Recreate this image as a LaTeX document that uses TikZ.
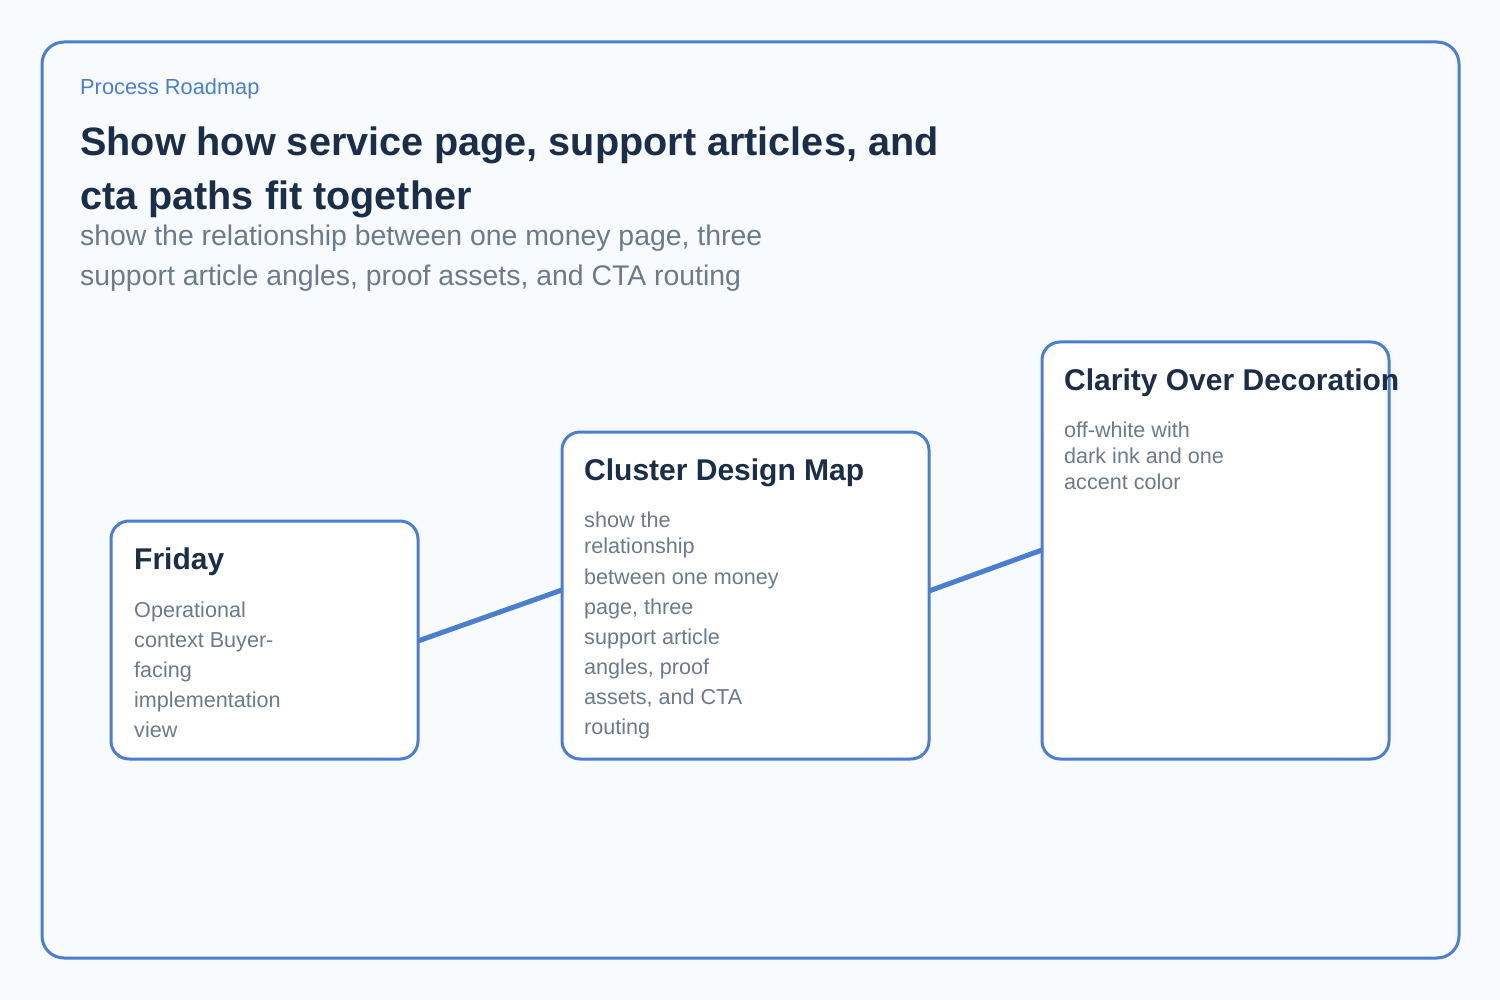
\documentclass[tikz,border=0pt]{standalone}
\usepackage{fontspec}
\setmainfont{Liberation Sans}
\definecolor{acc}{HTML}{4A7FD0}
\definecolor{ink}{HTML}{1A2E4A}
\definecolor{mut}{HTML}{6B7A8F}
\definecolor{bg}{HTML}{F8FBFE}
\begin{document}
\begin{tikzpicture}[x=1pt,y=-1pt,
  box/.style={draw=acc,line width=3pt,rounded corners=18pt,fill=white},
  t/.style={anchor=base west,inner sep=0pt},
  ttl/.style={t,text=ink,font=\fontsize{30}{34}\selectfont\bfseries},
  bd/.style={t,text=mut,font=\fontsize{21.6}{24}\selectfont},
  link/.style={draw=acc,line width=5pt}]
\useasboundingbox[fill=bg] (0,0) rectangle (1500,1000);
\draw[draw=acc,line width=3pt,rounded corners=22pt,fill=bg] (42,42) rectangle (1459,958);
\node[t,text=acc,font=\fontsize{21.8}{24}\selectfont] (kick) at (80,95) {Process Roadmap};
\node[t,text=ink,font=\fontsize{39.6}{44}\selectfont\bfseries] (h1) at (80,156) {Show how service page, support articles, and};
\node[t,text=ink,font=\fontsize{39.6}{44}\selectfont\bfseries] (h2) at (80,210) {cta paths fit together};
\node[t,text=mut,font=\fontsize{28.4}{30}\selectfont] (s1) at (80,246) {show the relationship between one money page, three};
\node[t,text=mut,font=\fontsize{28.4}{30}\selectfont] (s2) at (80,286) {support article angles, proof assets, and CTA routing};
% boxes
\draw[box] (111,521) rectangle (418,759);
\draw[box] (562,432) rectangle (929,759);
\draw[box] (1042,342) rectangle (1389,759);
\coordinate (a1) at (418,641);
\coordinate (a2) at (562,590);
\coordinate (b1) at (929,591);
\coordinate (b2) at (1042,550);
\draw[link] (a1) -- (a2);
\draw[link] (b1) -- (b2);
% Friday
\node[ttl] (f0) at (134,569) {Friday};
\node[bd] (f1) at (134,617) {Operational};
\node[bd] (f2) at (134,647) {context Buyer-};
\node[bd] (f3) at (134,677) {facing};
\node[bd] (f4) at (134,707) {implementation};
\node[bd] (f5) at (134,737) {view};
% Cluster
\node[ttl] (c0) at (584,480) {Cluster Design Map};
\node[bd] (c1) at (584,527) {show the};
\node[bd] (c2) at (584,553) {relationship};
\node[bd] (c3) at (584,584) {between one money};
\node[bd] (c4) at (584,614) {page, three};
\node[bd] (c5) at (584,644) {support article};
\node[bd] (c6) at (584,674) {angles, proof};
\node[bd] (c7) at (584,704) {assets, and CTA};
\node[bd] (c8) at (584,734) {routing};
% Clarity
\node[ttl] (d0) at (1064,390) {Clarity Over Decoration};
\node[bd] (d1) at (1064,437) {off-white with};
\node[bd] (d2) at (1064,463) {dark ink and one};
\node[bd] (d3) at (1064,489) {accent color};
\end{tikzpicture}
\end{document}
